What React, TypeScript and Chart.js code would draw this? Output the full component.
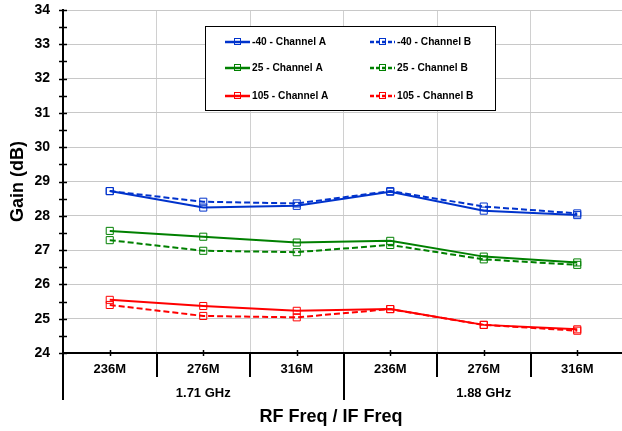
import React, { useEffect, useRef } from "react";
import { Chart, registerables } from "chart.js";

Chart.register(...registerables);

const CATEGORIES = ["236M", "276M", "316M", "236M", "276M", "316M"];
const GROUPS = ["1.71 GHz", "1.88 GHz"];
const GROUP_SIZE = 3;
const Y_MIN = 24;
const Y_MAX = 34;
const Y_STEP = 1;
const Y_MINOR = 0.5;

const SERIES_LABELS = [
  "-40 - Channel A",
  "-40 - Channel B",
  "25 - Channel A",
  "25 - Channel B",
  "105 - Channel A",
  "105 - Channel B",
];
const M40_A = [28.72, 28.24, 28.29, 28.7, 28.15, 28.02];
const M40_B = [28.72, 28.41, 28.36, 28.72, 28.27, 28.07];
const T25_A = [27.56, 27.39, 27.22, 27.27, 26.81, 26.64];
const T25_B = [27.29, 26.98, 26.94, 27.15, 26.73, 26.57];
const T105_A = [25.55, 25.37, 25.23, 25.28, 24.82, 24.69];
const T105_B = [25.4, 25.08, 25.04, 25.28, 24.82, 24.65];

const BLUE = "#0033CC";
const GREEN = "#008000";
const RED = "#FF0000";

const X_TITLE = "RF Freq / IF Freq";
const Y_TITLE = "Gain (dB)";

const FONT = "Arial, 'Liberation Sans', sans-serif";

function ds(label: string, data: number[], color: string, dashed: boolean) {
  return {
    label,
    data,
    borderColor: color,
    backgroundColor: "transparent",
    borderWidth: 2,
    borderDash: dashed ? [6, 3] : [],
    pointStyle: "rect" as const,
    pointRadius: 5,
    pointBorderWidth: 1,
    pointBorderColor: color,
    pointBackgroundColor: "transparent",
    tension: 0,
    fill: false,
  };
}

const decorPlugin = {
  id: "decor",
  afterDraw(chart: any) {
    const { ctx, chartArea, scales } = chart;
    const x = scales.x;
    const y = scales.y;
    ctx.save();
    ctx.strokeStyle = "#000";
    // y tick marks crossing axis
    ctx.lineWidth = 1.5;
    for (let v = Y_MIN; v <= Y_MAX + 1e-9; v += Y_MINOR) {
      const py = Math.round(y.getPixelForValue(v)) + 0.5;
      ctx.beginPath();
      ctx.moveTo(chartArea.left - 4, py);
      ctx.lineTo(chartArea.left + 4, py);
      ctx.stroke();
    }
    // x tick marks at category centers
    for (let i = 0; i < CATEGORIES.length; i++) {
      const px = Math.round(x.getPixelForValue(i)) + 0.5;
      ctx.beginPath();
      ctx.moveTo(px, chartArea.bottom - 3);
      ctx.lineTo(px, chartArea.bottom + 3);
      ctx.stroke();
    }
    // separators
    const half = (x.getPixelForValue(1) - x.getPixelForValue(0)) / 2;
    ctx.lineWidth = 2;
    for (let i = 0; i <= CATEGORIES.length; i++) {
      const px = Math.round(x.getPixelForValue(i) - half);
      const long = i % GROUP_SIZE === 0;
      ctx.beginPath();
      ctx.moveTo(px, chartArea.bottom);
      ctx.lineTo(px, chartArea.bottom + (long ? 47 : 24));
      ctx.stroke();
    }
    // group labels
    ctx.fillStyle = "#000";
    ctx.font = `bold 13px ${FONT}`;
    ctx.textAlign = "center";
    ctx.textBaseline = "middle";
    GROUPS.forEach((g, gi) => {
      const a = x.getPixelForValue(gi * GROUP_SIZE);
      const b = x.getPixelForValue(gi * GROUP_SIZE + GROUP_SIZE - 1);
      ctx.fillText(g, (a + b) / 2, chartArea.bottom + 40);
    });
    // x title
    ctx.font = `bold 18px ${FONT}`;
    ctx.fillText(X_TITLE, 331, chartArea.bottom + 64);

    // legend
    const bx = 205.5, by = 26.5, bw = 290, bh = 84;
    ctx.fillStyle = "#fff";
    ctx.fillRect(bx, by, bw, bh);
    ctx.strokeStyle = "#000";
    ctx.lineWidth = 1;
    ctx.strokeRect(bx, by, bw, bh);
    const rows = [41.7, 68.3, 96];
    const cols = [225, 370];
    chart.data.datasets.forEach((d: any, i: number) => {
      const cx = cols[i % 2];
      const cy = Math.round(rows[Math.floor(i / 2)]);
      ctx.strokeStyle = d.borderColor;
      ctx.lineWidth = 2.5;
      ctx.setLineDash(d.borderDash && d.borderDash.length ? [4, 2] : []);
      ctx.beginPath();
      ctx.moveTo(cx, cy);
      ctx.lineTo(cx + 25, cy);
      ctx.stroke();
      ctx.setLineDash([]);
      ctx.lineWidth = 1;
      ctx.strokeRect(cx + 9.5, cy - 3.5, 6, 6);
      ctx.fillStyle = "#000";
      ctx.font = `bold 10.2px ${FONT}`;
      ctx.textAlign = "left";
      ctx.textBaseline = "middle";
      ctx.fillText(d.label, cx + 27, cy);
    });
    ctx.restore();
  },
};

export default function App() {
  const ref = useRef<HTMLCanvasElement>(null);
  useEffect(() => {
    if (!ref.current) return;
    const chart = new Chart(ref.current, {
      type: "line",
      data: {
        labels: CATEGORIES,
        datasets: [
          ds(SERIES_LABELS[0], M40_A, BLUE, false),
          ds(SERIES_LABELS[1], M40_B, BLUE, true),
          ds(SERIES_LABELS[2], T25_A, GREEN, false),
          ds(SERIES_LABELS[3], T25_B, GREEN, true),
          ds(SERIES_LABELS[4], T105_A, RED, false),
          ds(SERIES_LABELS[5], T105_B, RED, true),
        ],
      },
      options: {
        animation: false,
        responsive: false,
        devicePixelRatio: 1,
        layout: { padding: { top: 10, right: 3, bottom: 0, left: 0 } },
        plugins: { legend: { display: false }, tooltip: { enabled: false } },
        scales: {
          x: {
            type: "category",
            offset: true,
            grid: { color: "#d0d0d0", drawTicks: false, offset: true, lineWidth: 1 },
            border: { color: "#000", width: 2 },
            ticks: {
              color: "#000",
              font: { family: FONT, size: 13, weight: "bold" },
              padding: 9,
              maxRotation: 0,
              autoSkip: false,
            },
            afterFit(s: any) {
              s.height = 78;
              s.paddingLeft = 0;
              s.paddingRight = 0;
            },
          },
          y: {
            min: Y_MIN,
            max: Y_MAX,
            ticks: {
              stepSize: Y_STEP,
              color: "#000",
              font: { family: FONT, size: 14, weight: "bold" },
              padding: 13,
            },
            grid: { color: "#c8c8c8", drawTicks: false, lineWidth: 1 },
            border: { color: "#000", width: 2 },
            title: {
              display: true,
              text: Y_TITLE,
              color: "#000",
              font: { family: FONT, size: 18, weight: "bold" },
              padding: { top: 7, bottom: 0 },
            },
            afterFit(s: any) {
              s.width = 63;
              s.paddingTop = 0;
              s.paddingBottom = 0;
            },
          },
        },
      },
      plugins: [decorPlugin],
    } as any);
    return () => chart.destroy();
  }, []);
  return (
    <div
      style={{
        position: "fixed",
        left: 0,
        top: 0,
        width: 622,
        height: 431,
        overflow: "hidden",
        background: "#fff",
      }}
    >
      <canvas ref={ref} width={630} height={431} style={{ display: "block", width: 630, height: 431 }} />
    </div>
  );
}
